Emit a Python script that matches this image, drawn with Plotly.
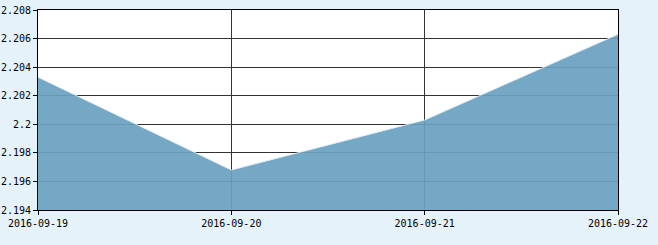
import plotly.graph_objects as go

dates = ["2016-09-19", "2016-09-20", "2016-09-21", "2016-09-22"]
values = [2.2033, 2.1968, 2.2003, 2.2063]
y_ticks = [2.194, 2.196, 2.198, 2.2, 2.202, 2.204, 2.206, 2.208]
y_labels = ["2.194", "2.196", "2.198", "2.2", "2.202", "2.204", "2.206", "2.208"]

fig = go.Figure()
fig.add_trace(go.Scatter(
    x=dates, y=values, mode="lines", fill="tozeroy",
    line=dict(color="rgba(230,240,248,0.9)", width=1),
    fillcolor="rgba(104,161,192,0.92)",
    hoverinfo="skip",
))

font = dict(family="DejaVu Sans Mono", size=10, color="#000000")
fig.update_layout(
    width=658, height=245,
    margin=dict(l=38, r=40, t=10, b=35, autoexpand=False),
    paper_bgcolor="#e6f2fa",
    plot_bgcolor="#ffffff",
    showlegend=False,
    font=font,
)
fig.update_xaxes(
    type="category", range=[0, 3], automargin=False,
    tickvals=dates, ticktext=dates,
    showgrid=True, gridcolor="#333333", gridwidth=1,
    showline=True, linecolor="#000000", linewidth=1, mirror=True,
    ticks="outside", ticklen=4, tickcolor="#000000",
    tickfont=font, zeroline=False,
)
fig.update_yaxes(
    range=[2.194, 2.208], automargin=False,
    tickvals=y_ticks, ticktext=y_labels,
    showgrid=True, gridcolor="#333333", gridwidth=1,
    showline=True, linecolor="#000000", linewidth=1, mirror=True,
    ticks="outside", ticklen=4, tickcolor="#000000",
    tickfont=font, zeroline=False,
)

fig.write_html("out.html")
